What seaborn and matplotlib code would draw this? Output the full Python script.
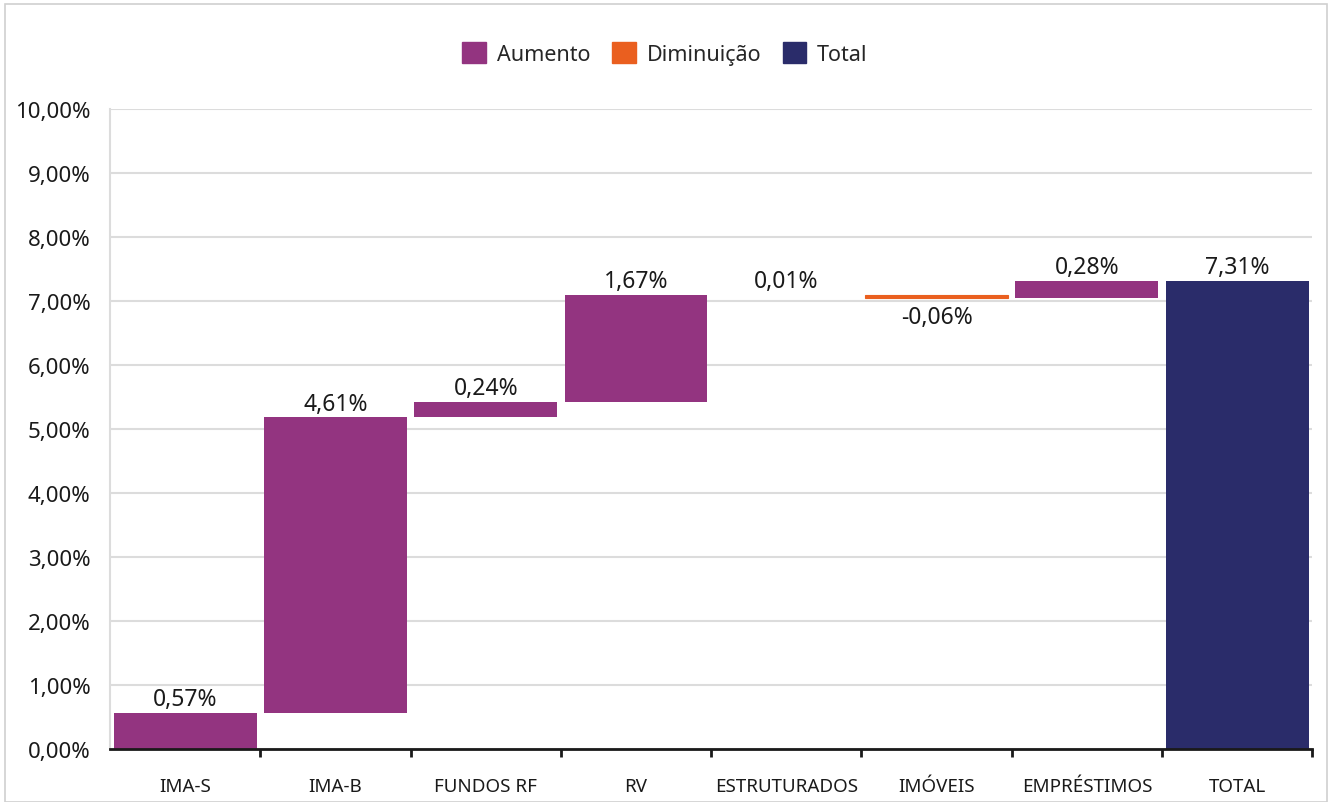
import numpy as np
import pandas as pd
import matplotlib
matplotlib.use("Agg")
import matplotlib.pyplot as plt
from matplotlib.patches import Patch, Rectangle
from matplotlib.ticker import FuncFormatter, FixedLocator
import seaborn as sns

categories = ["IMA-S", "IMA-B", "FUNDOS RF", "RV", "ESTRUTURADOS", "IMÓVEIS", "EMPRÉSTIMOS", "TOTAL"]
values = [0.57, 4.61, 0.24, 1.67, 0.01, -0.06, 0.28, 7.31]
kinds = ["Aumento", "Aumento", "Aumento", "Aumento", "Aumento", "Diminuição", "Aumento", "Total"]
labels = ["0,57%", "4,61%", "0,24%", "1,67%", "0,01%", "-0,06%", "0,28%", "7,31%"]

colors = {"Aumento": "#933480", "Diminuição": "#EA5F1F", "Total": "#2A2C6A"}

# waterfall bases
base = []
running = 0.0
for v, k in zip(values, kinds):
    if k == "Total":
        base.append(0.0)
    else:
        base.append(running if v >= 0 else running + v)
        running += v
df = pd.DataFrame({"cat": categories, "value": values, "kind": kinds,
                   "height": np.abs(values), "base": base, "label": labels})

sns.set_style("white")
plt.rcParams["font.family"] = ["Noto Sans", "DejaVu Sans"]

fig = plt.figure(figsize=(13.3, 8.03), dpi=100)
ax = fig.add_axes([0.0827, 0.066, 0.904, 0.797])

for kind, col in colors.items():
    sub = df[df["kind"] == kind]
    lw = 0.8 if kind == "Diminuição" else 0  # thin orange bar needs a bit of edge
    sns.barplot(data=sub, x="cat", y="height", order=categories, bottom=sub["base"].values,
                color=col, width=0.95, errorbar=None, saturation=1, ax=ax, zorder=3,
                edgecolor=col, linewidth=lw)

for i, row in df.iterrows():
    if row["value"] >= 0:
        ax.text(i, row["base"] + row["height"] + 0.03, row["label"], ha="center", va="bottom",
                fontsize=16.5, color="#1a1a1a")
    else:
        ax.text(i, row["base"] - 0.1, row["label"], ha="center", va="top",
                fontsize=16.5, color="#1a1a1a")

ax.set_xlim(-0.5, len(categories) - 0.5)
ax.set_ylim(0, 10)
ax.yaxis.set_major_locator(FixedLocator(np.arange(0, 11, 1)))
ax.yaxis.set_major_formatter(FuncFormatter(lambda v, p: f"{v:.2f}".replace(".", ",") + "%"))
ax.grid(axis="y", color="#dcdcdc", linewidth=1.5, zorder=0)
ax.set_axisbelow(True)
ax.set_xlabel("")
ax.set_ylabel("")

ax.tick_params(axis="y", length=0, labelsize=16, labelcolor="#1a1a1a", pad=14)
ax.tick_params(axis="x", which="major", length=0, labelsize=13.5, labelcolor="#1a1a1a", pad=20)
ax.set_xticks(np.arange(0.5, len(categories), 1), minor=True)
ax.tick_params(axis="x", which="minor", bottom=True, length=6, width=2, color="#1a1a1a", direction="out")

for s in ["top", "right"]:
    ax.spines[s].set_visible(False)
ax.spines["left"].set_color("#dcdcdc")
ax.spines["left"].set_linewidth(1.5)
ax.spines["bottom"].set_color("#1a1a1a")
ax.spines["bottom"].set_linewidth(2)
ax.spines["bottom"].set_zorder(5)

handles = [Patch(facecolor=c, edgecolor=c, label=k) for k, c in colors.items()]
fig.legend(handles=handles, loc="center", bbox_to_anchor=(0.5, 0.932), ncol=3, frameon=False,
           fontsize=15.5, handlelength=1.1, handleheight=1.1, handletextpad=0.5, columnspacing=1.0)

fig.patches.append(Rectangle((0.004, 0.0), 0.994, 0.994, transform=fig.transFigure,
                             fill=False, edgecolor="#d0d0d0", linewidth=1.2))

fig.savefig("out.png", dpi=100, facecolor="white")
